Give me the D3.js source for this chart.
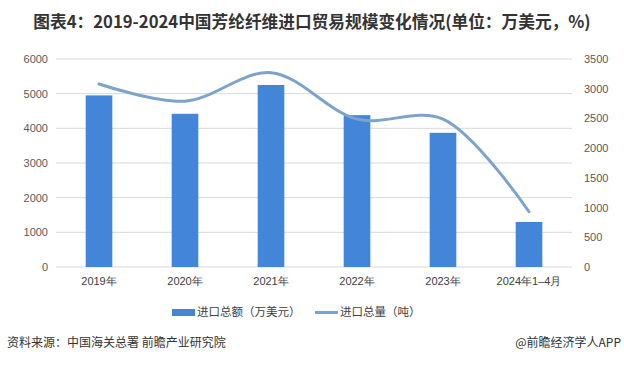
<!DOCTYPE html>
<html><head><meta charset="utf-8">
<script src="https://cdn.jsdelivr.net/npm/d3@7"></script>
<style>
body{margin:0;background:#fff;}
svg{display:block;font-family:"Noto Sans CJK SC","Noto Sans",sans-serif;}
</style></head>
<body><svg id="c" width="624" height="365"></svg>
<script>
const categories = ["2019年","2020年","2021年","2022年","2023年","2024年1–4月"];
const importValue = [4950, 4420, 5250, 4380, 3870, 1300];   // 万美元
const importVolume = [3080, 2790, 3270, 2490, 2490, 930];   // 吨
const leftTicks = [0,1000,2000,3000,4000,5000,6000];
const rightTicks = [0,500,1000,1500,2000,2500,3000,3500];

const svg = d3.select("#c");
const L = 56, R = 572, T = 59, B = 267;

svg.append("text").attr("x",312).attr("y",28).attr("text-anchor","middle")
  .attr("font-size",16.7).attr("font-weight","bold").attr("fill","#333")
  .text("图表4：2019-2024中国芳纶纤维进口贸易规模变化情况(单位：万美元，%)");

const x = d3.scaleBand().domain(categories).range([L,R]).paddingInner(0.69).paddingOuter(0.345);
const xc = d3.scalePoint().domain(categories).range([L,R]).padding(0.5);
const yL = d3.scaleLinear().domain([0,6000]).range([B,T]);
const yR = d3.scaleLinear().domain([0,3500]).range([B,T]);

// gridlines
svg.append("g").selectAll("line").data(leftTicks).join("line")
  .attr("x1",L).attr("x2",R).attr("y1",d=>yL(d)).attr("y2",d=>yL(d))
  .attr("stroke","#d9d9d9").attr("stroke-width",1);

// left axis
const gl = svg.append("g").attr("transform",`translate(${L},0)`)
  .call(d3.axisLeft(yL).tickValues(leftTicks).tickSize(0).tickPadding(8).tickFormat(d3.format("d")));
gl.select(".domain").remove();
gl.selectAll("text").attr("font-size",11).attr("fill","#595959").attr("font-family","Liberation Sans, Arial, sans-serif");

// right axis
const gr = svg.append("g").attr("transform",`translate(${R},0)`)
  .call(d3.axisRight(yR).tickValues(rightTicks).tickSize(0).tickPadding(12).tickFormat(d3.format("d")));
gr.select(".domain").remove();
gr.selectAll("text").attr("font-size",11).attr("fill","#595959").attr("font-family","Liberation Sans, Arial, sans-serif");

// x axis
const gx = svg.append("g").attr("transform",`translate(0,${B})`)
  .call(d3.axisBottom(x).tickSize(0).tickPadding(10));
gx.select(".domain").remove();
gx.selectAll("text").attr("font-size",11).attr("fill","#404040");

// bars
svg.append("g").selectAll("rect").data(importValue).join("rect")
  .attr("x",(d,i)=>x(categories[i])).attr("width",x.bandwidth())
  .attr("y",d=>yL(d)).attr("height",d=>B-yL(d)).attr("fill","#4285d9");

// line
const line = d3.line().x((d,i)=>xc(categories[i])).y(d=>yR(d)).curve(d3.curveCatmullRom.alpha(0.5));
svg.append("path").datum(importVolume).attr("d",line)
  .attr("fill","none").attr("stroke","#7ca3cc").attr("stroke-width",3).attr("stroke-linecap","round");

// legend
const lg = svg.append("g");
lg.append("rect").attr("x",172).attr("y",309).attr("width",23).attr("height",7).attr("fill","#4285d9");
lg.append("text").attr("x",197).attr("y",316).attr("font-size",11.5).attr("fill","#404040").text("进口总额（万美元）");
lg.append("line").attr("x1",315).attr("x2",338).attr("y1",312.5).attr("y2",312.5).attr("stroke","#7ca3cc").attr("stroke-width",3);
lg.append("text").attr("x",340).attr("y",316).attr("font-size",11.5).attr("fill","#404040").text("进口总量（吨）");

// footer
svg.append("text").attr("x",7).attr("y",347).attr("font-size",12).attr("fill","#333").text("资料来源：中国海关总署 前瞻产业研究院");
svg.append("text").attr("x",621).attr("y",347).attr("text-anchor","end").attr("font-size",12).attr("fill","#333").text("@前瞻经济学人APP");
</script></body></html>
